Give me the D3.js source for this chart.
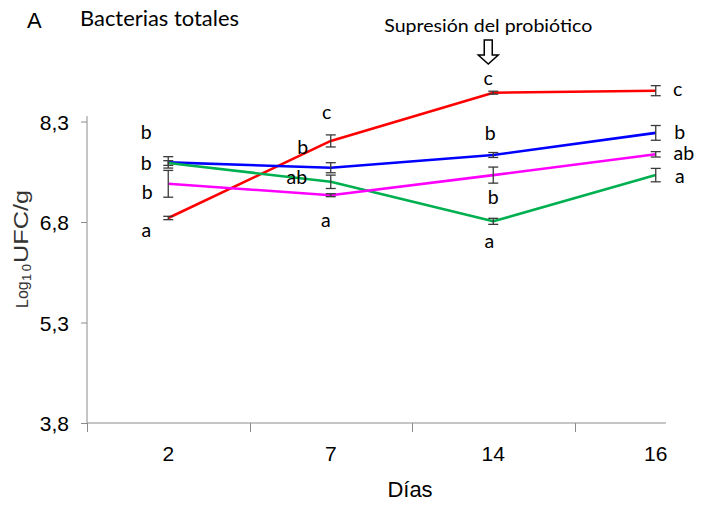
<!DOCTYPE html>
<html>
<head>
<meta charset="utf-8">
<script src="https://cdn.jsdelivr.net/npm/d3@7"></script>
<style>
  html, body { margin: 0; padding: 0; background: #fff; }
  svg { display: block; }
</style>
</head>
<body>
<svg id="chart" width="704" height="507"></svg>
<script>
// Sampling days (categories)
const days = ["2", "7", "14", "16"];

// Mean log10 CFU/g per group
const redValues     = [6.86, 8.01, 8.73, 8.76];
const blueValues    = [7.69, 7.61, 7.80, 8.13];
const greenValues   = [7.68, 7.40, 6.81, 7.50];
const magentaValues = [7.37, 7.20, 7.50, 7.81];

// Standard errors
const redErrors     = [0.025, 0.09, 0.022, 0.075];
const blueErrors    = [0.085, 0.075, 0.037, 0.11];
const greenErrors   = [0.035, 0.10, 0.045, 0.10];
const magentaErrors = [0.20, 0.022, 0.12, 0.04];

// Significance letters per group and day
const redLetters     = ["a", "c", "c", "c"];
const blueLetters    = ["b", "b", "b", "b"];
const greenLetters   = ["b", "ab", "a", "a"];
const magentaLetters = ["b", "a", "b", "ab"];

// Y axis ticks
const yTicks = [3.8, 5.3, 6.8, 8.3];
const yTickLabels = ["3,8", "5,3", "6,8", "8,3"];

const series = [
  { name: "red",     color: "#ff0000", values: redValues,     errors: redErrors,     letters: redLetters },
  { name: "blue",    color: "#0000ff", values: blueValues,    errors: blueErrors,    letters: blueLetters },
  { name: "green",   color: "#00b050", values: greenValues,   errors: greenErrors,   letters: greenLetters },
  { name: "magenta", color: "#ff00ff", values: magentaValues, errors: magentaErrors, letters: magentaLetters }
];

// Pixel offsets of each significance letter from its point
const letterOffsets = {
  red:     [[-22, 14], [-4, -27], [-5, -13], [22, 0]],
  blue:    [[-22, -30], [-28, -21], [-3, -22], [24, -1]],
  green:   [[-22, 0], [-34, -5], [-4, 22], [24, 3]],
  magenta: [[-21, 8], [-5, 27], [0, 22], [28, -1]]
};

const svg = d3.select("#chart");
const axisFont = "'Liberation Sans', Arial, sans-serif";
const textFont = "Lato, 'Open Sans', sans-serif";

const x = d3.scaleBand().domain(days).range([87, 737]);
const y = d3.scaleLinear().domain([3.8, 8.3]).range([423, 121.5]);
const yAxisTop = 8.38;
const xAxisEnd = 666;

// Axis lines
const axisColor = "#8c8c8c";
svg.append("line")
  .attr("x1", x.range()[0]).attr("x2", x.range()[0])
  .attr("y1", y(3.8)).attr("y2", y(yAxisTop))
  .attr("stroke", axisColor).attr("stroke-width", 1);
svg.append("line")
  .attr("x1", x.range()[0]).attr("x2", xAxisEnd)
  .attr("y1", y(3.8)).attr("y2", y(3.8))
  .attr("stroke", axisColor).attr("stroke-width", 1);

// Y axis ticks and labels
const yAxis = d3.axisLeft(y).tickValues(yTicks)
  .tickFormat((d, i) => yTickLabels[i]).tickSize(6).tickPadding(12);
const gy = svg.append("g").attr("transform", `translate(${x.range()[0]},0)`).call(yAxis);
gy.attr("font-family", axisFont);
gy.select(".domain").remove();
gy.selectAll(".tick line").attr("stroke", axisColor);
gy.selectAll(".tick text")
  .attr("font-family", axisFont).attr("font-size", 21).attr("fill", "#000")
  .attr("dy", "0.36em");

// X axis: ticks at category boundaries, labels centred in each band
const gx = svg.append("g").attr("transform", `translate(0,${y(3.8)})`);
gx.selectAll("line.bound").data(days).join("line")
  .attr("class", "bound")
  .attr("x1", d => Math.round(x(d)) + 0.5).attr("x2", d => Math.round(x(d)) + 0.5)
  .attr("y1", 0).attr("y2", 9)
  .attr("stroke", axisColor);
const xAxis = d3.axisBottom(x).tickSize(0).tickPadding(0);
const gxl = svg.append("g").attr("transform", `translate(0,${y(3.8)})`).call(xAxis);
gxl.attr("font-family", axisFont);
gxl.select(".domain").remove();
gxl.selectAll(".tick text")
  .attr("font-family", axisFont).attr("font-size", 21).attr("fill", "#000")
  .attr("dy", 0).attr("y", 38);

// Lines
const cx = d => x(d) + x.bandwidth() / 2;
const line = d3.line().x(d => cx(d.day)).y(d => y(d.value));
series.forEach(s => {
  const pts = days.map((day, i) => ({ day, value: s.values[i] }));
  svg.append("path").datum(pts)
    .attr("d", line)
    .attr("fill", "none")
    .attr("stroke", s.color)
    .attr("stroke-width", 2.6)
    .attr("stroke-linejoin", "round");
});

// Error bars
const errColor = "#3a3a3a";
series.forEach(s => {
  days.forEach((day, i) => {
    const px = cx(day);
    const lo = y(s.values[i] - s.errors[i]);
    const hi = y(s.values[i] + s.errors[i]);
    const g = svg.append("g").attr("stroke", errColor).attr("stroke-width", 1.3);
    g.append("line").attr("x1", px).attr("x2", px).attr("y1", lo).attr("y2", hi);
    g.append("line").attr("x1", px - 5).attr("x2", px + 5).attr("y1", lo).attr("y2", lo);
    g.append("line").attr("x1", px - 5).attr("x2", px + 5).attr("y1", hi).attr("y2", hi);
  });
});

// Significance letters
series.forEach(s => {
  days.forEach((day, i) => {
    const [dx, dy] = letterOffsets[s.name][i];
    const t = s.letters[i];
    const base = /b/.test(t) ? 7 : 5;
    svg.append("text")
      .attr("x", cx(day) + dx)
      .attr("y", y(s.values[i]) + dy + base)
      .attr("text-anchor", "middle")
      .attr("font-family", textFont).attr("font-size", 19.5)
      .attr("fill", "#000")
      .text(t);
  });
});

// Panel letter and title
svg.append("text").attr("x", 27).attr("y", 28)
  .attr("font-family", axisFont).attr("font-size", 22).text("A");
svg.append("text").attr("x", 80).attr("y", 26)
  .attr("font-family", textFont).attr("font-size", 20.5)
  .attr("textLength", 159).attr("lengthAdjust", "spacingAndGlyphs")
  .text("Bacterias totales");

// Probiotic withdrawal note and arrow
const arrowX = cx("14") - 5;
svg.append("text").attr("x", arrowX - 104).attr("y", 31.5)
  .attr("font-family", textFont).attr("font-size", 17.5)
  .attr("textLength", 208).attr("lengthAdjust", "spacingAndGlyphs")
  .text("Supresión del probiótico");
const arrow = d3.path();
arrow.moveTo(arrowX - 4, 40);
arrow.lineTo(arrowX + 4, 40);
arrow.lineTo(arrowX + 4, 55);
arrow.lineTo(arrowX + 10, 55);
arrow.lineTo(arrowX, 64);
arrow.lineTo(arrowX - 10, 55);
arrow.lineTo(arrowX - 4, 55);
arrow.closePath();
svg.append("path").attr("d", arrow.toString())
  .attr("fill", "#fff").attr("stroke", "#000").attr("stroke-width", 1.5)
  .attr("stroke-linejoin", "miter");

// Axis titles
const ylab = svg.append("g").attr("transform", "translate(28,308) rotate(-90)");
ylab.append("text").attr("x", 0).attr("y", 0)
  .attr("font-family", axisFont).attr("font-size", 16).attr("fill", "#333").text("Log");
ylab.append("text").attr("x", 27).attr("y", 2.5)
  .attr("font-family", axisFont).attr("font-size", 13).attr("fill", "#333")
  .attr("textLength", 17).text("10");
ylab.append("text").attr("x", 45).attr("y", 0)
  .attr("font-family", axisFont).attr("font-size", 21).attr("fill", "#333")
  .attr("textLength", 73).attr("lengthAdjust", "spacingAndGlyphs").text("UFC/g");

svg.append("text").attr("x", 410).attr("y", 497)
  .attr("text-anchor", "middle")
  .attr("font-family", axisFont).attr("font-size", 22).attr("fill", "#000")
  .text("Días");
</script>
</body>
</html>
